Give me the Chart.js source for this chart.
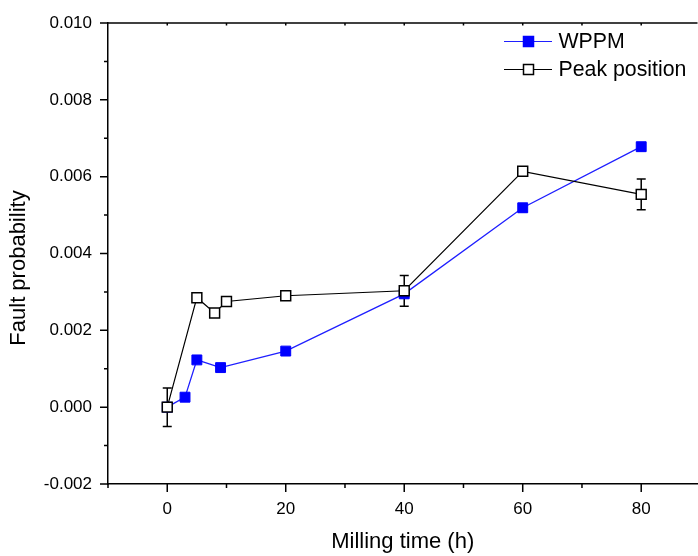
<!DOCTYPE html>
<html>
<head>
<meta charset="utf-8">
<script src="https://cdn.jsdelivr.net/npm/chart.js@4"></script>
<style>
  html, body { margin: 0; padding: 0; background: #fff; overflow: hidden; }
  #wrap { width: 698px; height: 556px; overflow: hidden; }
</style>
</head>
<body>
<div id="wrap"><canvas id="chart" width="706" height="556"></canvas></div>
<script>
// Data
const timeWppm = [0, 3, 5, 9, 20, 40, 60, 80];
const wppm = [0.0000, 0.00026, 0.00123, 0.00103, 0.00146, 0.00295, 0.00519, 0.00678];
const wppmErr = [0, 0, 0, 0, 0, 0.0001, 0.0001, 0.0001];

const timePeak = [0, 5, 8, 10, 20, 40, 60, 80];
const peak = [0.0000, 0.00285, 0.00245, 0.00275, 0.0029, 0.00303, 0.00614, 0.00554];
const peakErr = [0.0005, 0, 0, 0, 0, 0.0004, 0, 0.0004];

const xTicks = [-10, 0, 10, 20, 30, 40, 50, 60, 70, 80];
const xLabelled = [0, 20, 40, 60, 80];
const yTicks = [-0.002, -0.001, 0, 0.001, 0.002, 0.003, 0.004, 0.005, 0.006, 0.007, 0.008, 0.009, 0.010];
const yLabelled = [-0.002, 0, 0.002, 0.004, 0.006, 0.008, 0.010];

const FONT = 'Arial, "Liberation Sans", sans-serif';

function toPoints(xs, ys) {
    return xs.map((x, i) => ({ x: x, y: ys[i] }));
}

function isLabelled(list, v) {
    return list.some(l => Math.abs(l - v) < 1e-9);
}

// Error bars, drawn under the markers
const errorBars = {
    id: 'errorBars',
    beforeDatasetsDraw(chart) {
        const ctx = chart.ctx;
        const xs = chart.scales.x, ys = chart.scales.y;
        chart.data.datasets.forEach(ds => {
            ctx.save();
            ctx.strokeStyle = ds.errColor;
            ctx.lineWidth = 1.5;
            ds.data.forEach((p, i) => {
                const e = ds.errors[i];
                if (!e) return;
                const px = xs.getPixelForValue(p.x);
                const top = ys.getPixelForValue(p.y + e);
                const bot = ys.getPixelForValue(p.y - e);
                ctx.beginPath();
                ctx.moveTo(px, top); ctx.lineTo(px, bot);
                ctx.moveTo(px - 4.5, top); ctx.lineTo(px + 4.5, top);
                ctx.moveTo(px - 4.5, bot); ctx.lineTo(px + 4.5, bot);
                ctx.stroke();
            });
            ctx.restore();
        });
    }
};

// Frame ticks, top border, axis titles and legend
const decorations = {
    id: 'decorations',
    afterDraw(chart) {
        const ctx = chart.ctx;
        const area = chart.chartArea;
        const xs = chart.scales.x, ys = chart.scales.y;
        ctx.save();
        ctx.strokeStyle = '#000';
        ctx.lineWidth = 1.5;

        // top border
        ctx.beginPath();
        ctx.moveTo(area.left, area.top);
        ctx.lineTo(area.right, area.top);
        ctx.stroke();

        // x ticks (outside bottom, small inside top)
        ctx.beginPath();
        xTicks.forEach(v => {
            const px = xs.getPixelForValue(v);
            const len = isLabelled(xLabelled, v) ? 8 : 4;
            ctx.moveTo(px, area.bottom); ctx.lineTo(px, area.bottom + len);
            if (v > -10) { ctx.moveTo(px, area.top); ctx.lineTo(px, area.top + 2.5); }
        });
        // y ticks (outside left)
        yTicks.forEach(v => {
            const py = ys.getPixelForValue(v);
            const len = isLabelled(yLabelled, v) ? 8 : 4;
            ctx.moveTo(area.left, py); ctx.lineTo(area.left - len, py);
        });
        ctx.stroke();

        // axis titles
        ctx.fillStyle = '#000';
        ctx.font = '22px ' + FONT;
        ctx.textAlign = 'center';
        ctx.textBaseline = 'alphabetic';
        ctx.fillText('Milling time (h)', (area.left + area.right) / 2, 548);

        ctx.save();
        ctx.translate(25, 268);
        ctx.rotate(-Math.PI / 2);
        ctx.fillText('Fault probability', 0, 0);
        ctx.restore();

        // legend
        const rows = [
            { ds: chart.data.datasets[0], y: 41.5 },
            { ds: chart.data.datasets[1], y: 69.5 }
        ];
        ctx.font = '21.3px ' + FONT;
        ctx.textAlign = 'left';
        ctx.textBaseline = 'middle';
        rows.forEach(r => {
            ctx.strokeStyle = r.ds.borderColor;
            ctx.lineWidth = 1.2;
            ctx.beginPath();
            ctx.moveTo(504, r.y); ctx.lineTo(552, r.y);
            ctx.stroke();
            ctx.fillStyle = r.ds.pointBackgroundColor;
            ctx.fillRect(523.5, r.y - 5, 10, 10);
            ctx.strokeStyle = r.ds.pointBorderColor;
            ctx.lineWidth = 1.5;
            ctx.strokeRect(523.5, r.y - 5, 10, 10);
            ctx.fillStyle = '#000';
            ctx.fillText(r.ds.label, 558.5, r.y + 1);
        });
        ctx.restore();
    }
};

new Chart(document.getElementById('chart'), {
    type: 'scatter',
    data: {
        datasets: [
            {
                label: 'WPPM',
                data: toPoints(timeWppm, wppm),
                errors: wppmErr,
                errColor: '#3a3aff',
                showLine: true,
                borderColor: '#1f1fff',
                borderWidth: 1.3,
                pointStyle: 'rect',
                pointRadius: 7,
                pointBackgroundColor: '#0000ff',
                pointBorderColor: '#0000ff',
                pointBorderWidth: 1,
                order: 1
            },
            {
                label: 'Peak position',
                data: toPoints(timePeak, peak),
                errors: peakErr,
                errColor: '#000',
                showLine: true,
                borderColor: '#000',
                borderWidth: 1.2,
                pointStyle: 'rect',
                pointRadius: 7,
                pointBackgroundColor: '#fff',
                pointBorderColor: '#000',
                pointBorderWidth: 1.5,
                order: 0
            }
        ]
    },
    options: {
        responsive: false,
        animation: false,
        layout: { padding: { top: 23, left: 0, right: 0, bottom: 0 } },
        plugins: {
            legend: { display: false },
            tooltip: { enabled: false }
        },
        scales: {
            x: {
                type: 'linear',
                min: -10,
                max: 89.5,
                afterBuildTicks: s => { s.ticks = xTicks.map(v => ({ value: v })); },
                afterFit: s => { s.height = 72; s.paddingLeft = 0; s.paddingRight = 0; },
                grid: { display: false, drawTicks: false },
                border: { display: true, color: '#000', width: 1.5 },
                ticks: {
                    padding: 15,
                    color: '#000',
                    font: { family: FONT, size: 17 },
                    maxRotation: 0,
                    autoSkip: false,
                    callback: v => isLabelled(xLabelled, v) ? String(v) : ''
                }
            },
            y: {
                type: 'linear',
                min: -0.002,
                max: 0.010,
                afterBuildTicks: s => { s.ticks = yTicks.map(v => ({ value: v })); },
                afterFit: s => { s.width = 108; s.paddingTop = 0; s.paddingBottom = 0; },
                grid: { display: false, drawTicks: false },
                border: { display: true, color: '#000', width: 1.5 },
                ticks: {
                    padding: 16,
                    color: '#000',
                    font: { family: FONT, size: 17 },
                    autoSkip: false,
                    callback: v => isLabelled(yLabelled, v) ? v.toFixed(3) : ''
                }
            }
        }
    },
    plugins: [errorBars, decorations]
});
</script>
</body>
</html>
